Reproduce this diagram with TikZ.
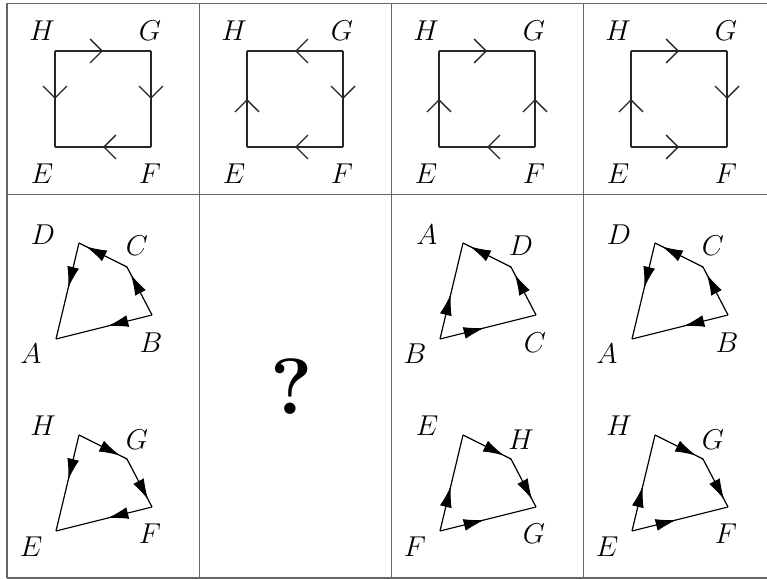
\documentclass[tikz,border=0pt]{standalone}
\usetikzlibrary{arrows.meta,decorations.markings}

\begin{document}
\begin{tikzpicture}[x=.5bp,y=-.5bp,font=\Large,>=Latex,
  grid/.style={line width=.75bp,black!60},
  sqline/.style={line width=.65bp,black!85},
  quad/.style={line width=.6bp},
  chev/.style={postaction={decorate},decoration={markings,
    mark=at position .5 with {\arrow{Straight Barb[length=6bp,width=12bp]}}}},
  mid/.style={postaction={decorate},decoration={markings,
    mark=at position 23bp with {\arrow{Latex[length=10.5bp,width=6bp]}}}}]
 \useasboundingbox (0,0) rectangle (767,579);
 % table
 \foreach \y in {3.5,194.5,578}{\draw[grid] (7,\y)--(767,\y);}
 \foreach \x in {7,199.5,391.5,583.5}{\draw[grid] (\x,3.5)--(\x,578);}
 % top row: squares
 \foreach \k/\x in {1/7,2/199,3/391,4/583}{
  \coordinate (tH\k) at (\x+48,51);
  \coordinate (tG\k) at (\x+144,51);
  \coordinate (tF\k) at (\x+144,147);
  \coordinate (tE\k) at (\x+48,147);
  \node (tlH\k) at (\x+35,31) {$H$};
  \node (tlG\k) at (\x+143,31) {$G$};
  \node (tlE\k) at (\x+35,174) {$E$};
  \node (tlF\k) at (\x+143,174) {$F$};
 }
 \draw[sqline,chev] (tH1)--(tG1);
 \draw[sqline,chev] (tG1)--(tF1);
 \draw[sqline,chev] (tF1)--(tE1);
 \draw[sqline,chev] (tH1)--(tE1);
 \draw[sqline,chev] (tG2)--(tH2);
 \draw[sqline,chev] (tG2)--(tF2);
 \draw[sqline,chev] (tF2)--(tE2);
 \draw[sqline,chev] (tE2)--(tH2);
 \draw[sqline,chev] (tH3)--(tG3);
 \draw[sqline,chev] (tF3)--(tG3);
 \draw[sqline,chev] (tF3)--(tE3);
 \draw[sqline,chev] (tE3)--(tH3);
 \draw[sqline,chev] (tH4)--(tG4);
 \draw[sqline,chev] (tG4)--(tF4);
 \draw[sqline,chev] (tE4)--(tF4);
 \draw[sqline,chev] (tE4)--(tH4);
 % bottom row: quadrilaterals
 \foreach \k/\x/\la/\lb/\lc/\ld in {1/7/D/C/B/A,3/391/A/D/C/B,4/583/D/C/B/A}{
  \coordinate (\la\k) at (\x+72,243);
  \coordinate (\lb\k) at (\x+120,267);
  \coordinate (\lc\k) at (\x+145,315);
  \coordinate (\ld\k) at (\x+49,339);
  \node (l\la\k) at (\x+36,235) {$\la$};
  \node (l\lb\k) at (\x+130,246) {$\lb$};
  \node (l\lc\k) at (\x+144,343) {$\lc$};
  \node (l\ld\k) at (\x+24,354) {$\ld$};
 }
 \foreach \k/\x/\la/\lb/\lc/\ld in {1/7/H/G/F/E,3/391/E/H/G/F,4/583/H/G/F/E}{
  \coordinate (\la\k) at (\x+72,435);
  \coordinate (\lb\k) at (\x+120,459);
  \coordinate (\lc\k) at (\x+145,507);
  \coordinate (\ld\k) at (\x+49,531);
  \node (l\la\k) at (\x+36,426) {$\la$};
  \node (l\lb\k) at (\x+130,440) {$\lb$};
  \node (l\lc\k) at (\x+143,534) {$\lc$};
  \node (l\ld\k) at (\x+24,547) {$\ld$};
 }
 \foreach \k in {1,3,4}{
  \draw[quad,mid] (B\k)--(A\k);
  \draw[quad,mid] (B\k)--(C\k);
  \draw[quad,mid] (C\k)--(D\k);
  \draw[quad,mid] (D\k)--(A\k);
 }
 \draw[quad,mid] (H1)--(G1);
 \draw[quad,mid] (G1)--(F1);
 \draw[quad,mid] (F1)--(E1);
 \draw[quad,mid] (H1)--(E1);
 \draw[quad,mid] (F3)--(E3);
 \draw[quad,mid] (E3)--(H3);
 \draw[quad,mid] (H3)--(G3);
 \draw[quad,mid] (F3)--(G3);
 \draw[quad,mid] (E4)--(H4);
 \draw[quad,mid] (H4)--(G4);
 \draw[quad,mid] (G4)--(F4);
 \draw[quad,mid] (E4)--(F4);
 \node (qmark) at (292,387) {\fontsize{40}{44}\selectfont\bfseries ?};
\end{tikzpicture}
\end{document}
